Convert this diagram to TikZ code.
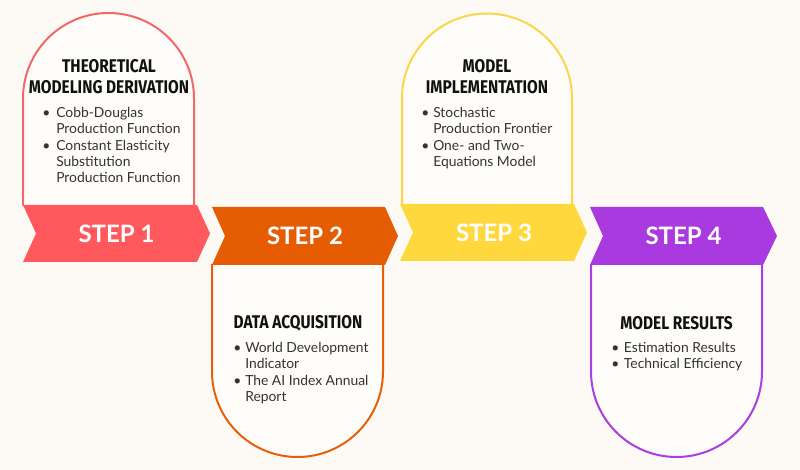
\documentclass[tikz,border=0pt]{standalone}
\usepackage{fontspec}
\usepackage{tikz}
\usetikzlibrary{calc}
\setmainfont{Lato}
\newfontfamily\headfont[FakeStretch=0.84]{Fira Sans}
\tikzset{
  steplabel/.style={text={rgb, 255:red, 255; green, 255; blue, 255 }, font=\bfseries\fontsize{18}{20}\selectfont},
  steptitle/.style={inner sep=0.75pt, align=center, text={rgb, 255:red, 17; green, 17; blue, 17 }, font=\headfont\bfseries\fontsize{13.8}{15.75}\selectfont},
  steplist/.style={anchor=north west, inner sep=0pt, text={rgb, 255:red, 51; green, 51; blue, 51 }, font=\fontsize{10.4}{12.2}\selectfont},
}

\begin{document}
\begin{tikzpicture}[x=0.75pt,y=0.75pt,yscale=-1,xscale=1]
%set diagram left start at 0, and has height of 470
\useasboundingbox (0,0) rectangle (800,470);
\fill [fill={rgb, 255:red, 253; green, 250; blue, 246 }] (0,0) rectangle (800,470);

%Shape: Arch 1 [id:dp1]
\draw [draw={rgb, 255:red, 242; green, 104; blue, 106 }, line width=1.5, fill={rgb, 255:red, 255; green, 253; blue, 250 }] (23,206) -- (23,98.5) arc (180:360:85.5) -- (194,206) ;
%Shape: Arch 2 [id:dp2]
\draw [draw={rgb, 255:red, 232; green, 95; blue, 10 }, line width=1.5, fill={rgb, 255:red, 255; green, 253; blue, 250 }] (212,264) -- (212,371.5) arc (180:0:85.5) -- (383,264) ;
%Shape: Arch 3 [id:dp3]
\draw [draw={rgb, 255:red, 250; green, 214; blue, 72 }, line width=1.5, fill={rgb, 255:red, 255; green, 253; blue, 250 }] (402,205) -- (402,98.5) arc (180:360:85) -- (572,205) ;
%Shape: Arch 4 [id:dp4]
\draw [draw={rgb, 255:red, 170; green, 62; blue, 224 }, line width=1.5, fill={rgb, 255:red, 255; green, 253; blue, 250 }] (591,264) -- (591,371.5) arc (180:0:85.5) -- (762,264) ;

%Chevron 1 [id:dp5]
\fill [fill={rgb, 255:red, 255; green, 89; blue, 94 }] (23,205) -- (197,205) -- (210,233.5) -- (197,262) -- (23,262) -- (36,233.5) -- cycle ;
%Chevron 2 [id:dp6]
\fill [fill={rgb, 255:red, 230; green, 92; blue, 2 }] (212,207) -- (385,207) -- (398,236) -- (385,265) -- (212,265) -- (225,236) -- cycle ;
%Chevron 3 [id:dp7]
\fill [fill={rgb, 255:red, 255; green, 216; blue, 62 }] (400,204) -- (574,204) -- (587,232.5) -- (574,261) -- (400,261) -- (413,232.5) -- cycle ;
%Chevron 4 [id:dp8]
\fill [fill={rgb, 255:red, 168; green, 58; blue, 224 }] (590,207) -- (763,207) -- (777,236) -- (763,265) -- (590,265) -- (603,236) -- cycle ;

% Text Node
\node (label1) at (116.5,233.5) [steplabel] {STEP 1};
% Text Node
\node (label2) at (305,236) [steplabel] {STEP 2};
% Text Node
\node (label3) at (494,232.5) [steplabel] {STEP 3};
% Text Node
\node (label4) at (683.5,236) [steplabel] {STEP 4};

% Text Node
\node (title1) at (109,76.5) [steptitle] {THEORETICAL\\MODELING DERIVATION};
% Text Node
\node (title2) at (298,323) [steptitle] {DATA ACQUISITION};
% Text Node
\node (title3) at (487,76.5) [steptitle] {MODEL\\IMPLEMENTATION};
% Text Node
\node (title4) at (676.5,323) [steptitle] {MODEL RESULTS};

% Text Node
\node (list1) at (42,106) [steplist] {\begin{tabular}{@{}p{10.5pt}@{}l@{}}
\textbullet & Cobb-Douglas\\ & Production Function\\
\textbullet & Constant Elasticity\\ & Substitution\\ & Production Function
\end{tabular}};
% Text Node
\node (list2) at (233,341) [steplist] {\begin{tabular}{@{}p{9pt}@{}l@{}}
\textbullet & World Development\\ & Indicator\\
\textbullet & The AI Index Annual\\ & Report
\end{tabular}};
% Text Node
\node (list3) at (421,106) [steplist] {\begin{tabular}{@{}p{9pt}@{}l@{}}
\textbullet & Stochastic\\ & Production Frontier\\
\textbullet & One- and Two-\\ & Equations Model
\end{tabular}};
% Text Node
\node (list4) at (611,341) [steplist] {\begin{tabular}{@{}p{9.5pt}@{}l@{}}
\textbullet & Estimation Results\\
\textbullet & Technical Efficiency
\end{tabular}};

\end{tikzpicture}
\end{document}
